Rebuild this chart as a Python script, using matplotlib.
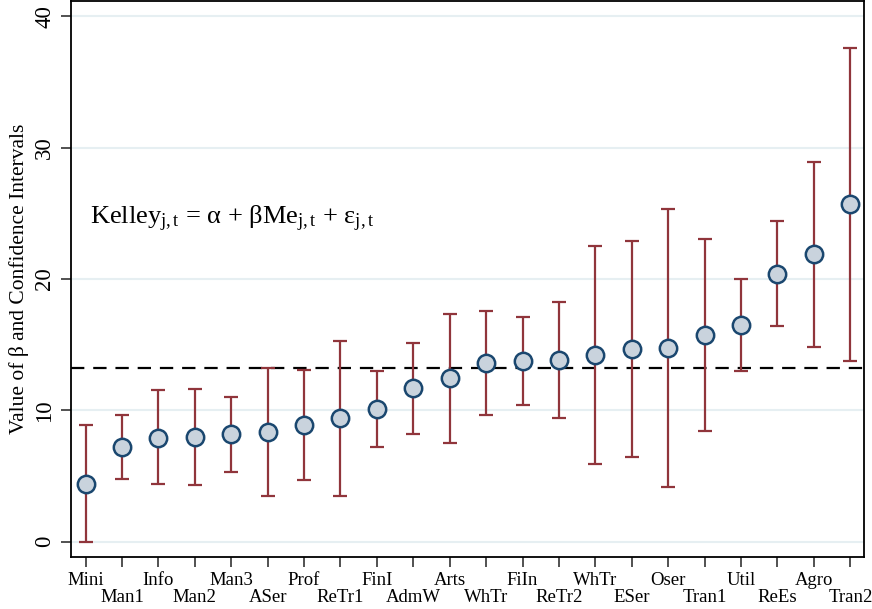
import matplotlib
matplotlib.use("Agg")
import matplotlib.pyplot as plt
import numpy as np

categories = ["Mini", "Man1", "Info", "Man2", "Man3", "ASer", "Prof", "ReTr1", "FinI", "AdmW", "Arts",
              "WhTr", "FiIn", "ReTr2", "WhTr", "ESer", "Oser", "Tran1", "Util", "ReEs", "Agro", "Tran2"]
beta = [4.41, 7.18, 7.92, 7.99, 8.20, 8.37, 8.86, 9.39, 10.12, 11.67, 12.43,
        13.60, 13.75, 13.85, 14.21, 14.66, 14.72, 15.73, 16.49, 20.37, 21.87, 25.68]
ci_low = [0.0, 4.75, 4.39, 4.31, 5.33, 3.48, 4.67, 3.50, 7.23, 8.17, 7.54,
          9.64, 10.40, 9.44, 5.91, 6.47, 4.16, 8.42, 12.99, 16.39, 14.79, 13.75]
ci_high = [8.86, 9.62, 11.52, 11.62, 11.04, 13.22, 13.07, 15.30, 13.01, 15.15, 17.35,
           17.53, 17.08, 18.27, 22.53, 22.88, 25.30, 23.06, 19.99, 24.38, 28.90, 37.57]
ref_value = 13.24
yticks = [0, 10, 20, 30, 40]

plt.rcParams['font.family'] = ['Liberation Serif', 'DejaVu Serif']
plt.rcParams['mathtext.fontset'] = 'custom'
plt.rcParams['mathtext.rm'] = 'Liberation Serif'
plt.rcParams['mathtext.it'] = 'Liberation Serif:italic'

fig = plt.figure(figsize=(8.72, 6.09), dpi=100)
ax = fig.add_axes([0.081, 0.086, 0.910, 0.912])

x = np.arange(len(categories))
b = np.array(beta)
lo = np.array(ci_low)
hi = np.array(ci_high)

for yv in yticks:
    ax.axhline(yv, color='#e6eff2', lw=1.5, zorder=0)

ax.axhline(ref_value, color='black', lw=1.6, dashes=(6, 4), zorder=1)

ax.errorbar(x, b, yerr=[b - lo, hi - b], fmt='none', ecolor='#90353b',
            elinewidth=1.6, capsize=5, capthick=1.6, zorder=2)
ax.plot(x, b, 'o', ms=12.5, mfc='#c9d3dd', mec='#1a476f', mew=1.8, zorder=3)

ax.set_xlim(-0.41, 21.38)
ax.set_ylim(-1.14, 41.15)
ax.set_yticks(yticks)
ax.set_yticklabels([str(v) for v in yticks], rotation=90, va='center', fontsize=16.5)
ax.set_xticks(x)
ax.set_xticklabels(categories, fontsize=13.5)
ax.tick_params(axis='both', direction='out', length=7, width=1.2, color='#333333')
ax.tick_params(axis='y', pad=4)
ax.tick_params(axis='x', pad=4)
for i, lab in enumerate(ax.get_xticklabels()):
    if i % 2 == 1:
        lab.set_y(-0.031)
ax.set_ylabel("Value of β and Confidence Intervals", fontsize=15.5, labelpad=4)

for s in ax.spines.values():
    s.set_linewidth(1.3)
    s.set_color('black')

ax.text(0.12, 24.6, r"Kelley$_{\mathrm{j,t}}$ = α + βMe$_{\mathrm{j,t}}$ + ε$_{\mathrm{j,t}}$", fontsize=19,
        va='center', ha='left')

fig.savefig("out.png", dpi=100)
